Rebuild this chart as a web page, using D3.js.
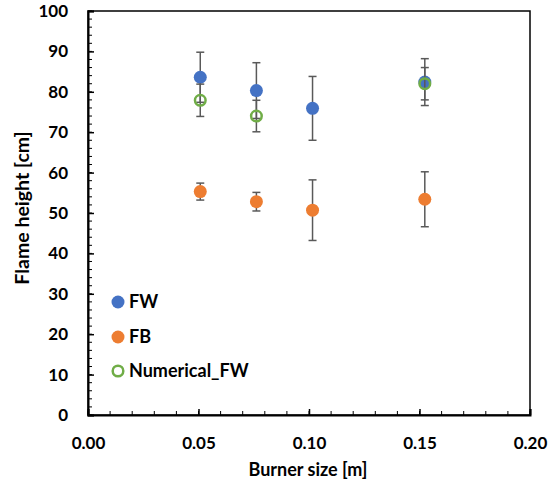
<!DOCTYPE html>
<html>
<head>
<meta charset="utf-8">
<script src="https://cdn.jsdelivr.net/npm/d3@7"></script>
<style>
  body { margin: 0; background: #fff; }
  text { font-family: Lato, "Open Sans", sans-serif; font-weight: bold; fill: #000; }
</style>
</head>
<body>
<div id="plot"></div>
<script>
// Burner sizes [m]
const burnerSize = [0.0508, 0.0762, 0.1016, 0.1524];

// Flame heights [cm] and error bar half-widths
const fwValues = [83.6, 80.3, 75.9, 82.4];
const fwErrors = [6.2, 6.9, 7.9, 5.8];
const fbValues = [55.3, 52.8, 50.7, 53.4];
const fbErrors = [2.1, 2.3, 7.5, 6.8];
const numSize = [0.0508, 0.0762, 0.1524];
const numValues = [77.9, 74.0, 82.0];
const numErrors = [4.0, 3.9, 4.0];

const xTicks = [0, 0.05, 0.10, 0.15, 0.20];
const yTicks = [0, 10, 20, 30, 40, 50, 60, 70, 80, 90, 100];

const series = [
    { name: "FW", x: burnerSize, y: fwValues, err: fwErrors, color: "#4472C4", open: false },
    { name: "FB", x: burnerSize, y: fbValues, err: fbErrors, color: "#ED7D31", open: false },
    { name: "Numerical_FW", x: numSize, y: numValues, err: numErrors, color: "#70AD47", open: true }
];

const svgWidth = 550, svgHeight = 484;
const margin = { top: 11, right: 20, bottom: 69, left: 88 };
const width = svgWidth - margin.left - margin.right;
const height = svgHeight - margin.top - margin.bottom;

const svg = d3.select("#plot").append("svg")
    .attr("width", svgWidth)
    .attr("height", svgHeight);

const g = svg.append("g").attr("transform", `translate(${margin.left},${margin.top})`);

const x = d3.scaleLinear().domain([0, 0.2]).range([0, width]);
const y = d3.scaleLinear().domain([0, 100]).range([height, 0]);

// frame
g.append("rect")
    .attr("width", width).attr("height", height)
    .attr("fill", "none").attr("stroke", "#000").attr("stroke-width", 1.5);

// minor ticks (inside)
g.append("g").selectAll("line")
    .data(d3.range(0, 100.01, 2))
    .enter().append("line")
    .attr("x1", 0).attr("x2", 4)
    .attr("y1", d => y(d)).attr("y2", d => y(d))
    .attr("stroke", "#000").attr("stroke-width", 1);
g.append("g").selectAll("line")
    .data(d3.range(0, 0.2001, 0.01))
    .enter().append("line")
    .attr("x1", d => x(d)).attr("x2", d => x(d))
    .attr("y1", height).attr("y2", height - 4)
    .attr("stroke", "#000").attr("stroke-width", 1);

// major axes
const yAxis = g.append("g")
    .call(d3.axisLeft(y).tickValues(yTicks).tickSize(-6).tickPadding(20).tickFormat(d3.format("d")));
const xAxis = g.append("g")
    .attr("transform", `translate(0,${height})`)
    .call(d3.axisBottom(x).tickValues(xTicks).tickSize(-6).tickPadding(22).tickFormat(d3.format(".2f")));
[yAxis, xAxis].forEach(a => {
    a.select(".domain").attr("stroke", "#000").attr("stroke-width", 2);
    a.selectAll(".tick line").attr("stroke", "#000").attr("stroke-width", 1.5);
    a.selectAll(".tick text").style("font-size", "17px");
});

// axis titles
svg.append("text")
    .attr("x", margin.left + width / 2 - 1).attr("y", 476)
    .attr("text-anchor", "middle").style("font-size", "18px")
    .text("Burner size [m]");
svg.append("text")
    .attr("transform", `translate(29,${margin.top + height / 2 - 5}) rotate(-90)`)
    .attr("text-anchor", "middle").style("font-size", "19.5px")
    .text("Flame height [cm]");

// series with error bars
series.forEach(s => {
    const sg = g.append("g");
    const pts = s.x.map((xv, i) => ({ x: xv, y: s.y[i], e: s.err[i] }));
    const eb = sg.selectAll(".eb").data(pts).enter().append("g").attr("class", "eb")
        .attr("stroke", "#595959").attr("stroke-width", 1.5);
    eb.append("line")
        .attr("x1", d => x(d.x)).attr("x2", d => x(d.x))
        .attr("y1", d => y(d.y - d.e)).attr("y2", d => y(d.y + d.e));
    eb.append("line")
        .attr("x1", d => x(d.x) - 4).attr("x2", d => x(d.x) + 4)
        .attr("y1", d => y(d.y + d.e)).attr("y2", d => y(d.y + d.e));
    eb.append("line")
        .attr("x1", d => x(d.x) - 4).attr("x2", d => x(d.x) + 4)
        .attr("y1", d => y(d.y - d.e)).attr("y2", d => y(d.y - d.e));
    sg.selectAll("circle").data(pts).enter().append("circle")
        .attr("cx", d => x(d.x)).attr("cy", d => y(d.y))
        .attr("r", s.open ? 5.3 : 6.5)
        .attr("fill", s.open ? "none" : s.color)
        .attr("stroke", s.open ? s.color : "none")
        .attr("stroke-width", 2.5);
});

// legend
const legendY = [302, 337, 371];
const legend = svg.append("g");
series.forEach((s, i) => {
    legend.append("circle")
        .attr("cx", 118).attr("cy", legendY[i])
        .attr("r", s.open ? 5.3 : 6.5)
        .attr("fill", s.open ? "none" : s.color)
        .attr("stroke", s.open ? s.color : "none")
        .attr("stroke-width", 2.5);
    legend.append("text")
        .attr("x", 129).attr("y", legendY[i]).attr("dy", "0.35em")
        .style("font-size", "18px")
        .text(s.name);
});
</script>
</body>
</html>
